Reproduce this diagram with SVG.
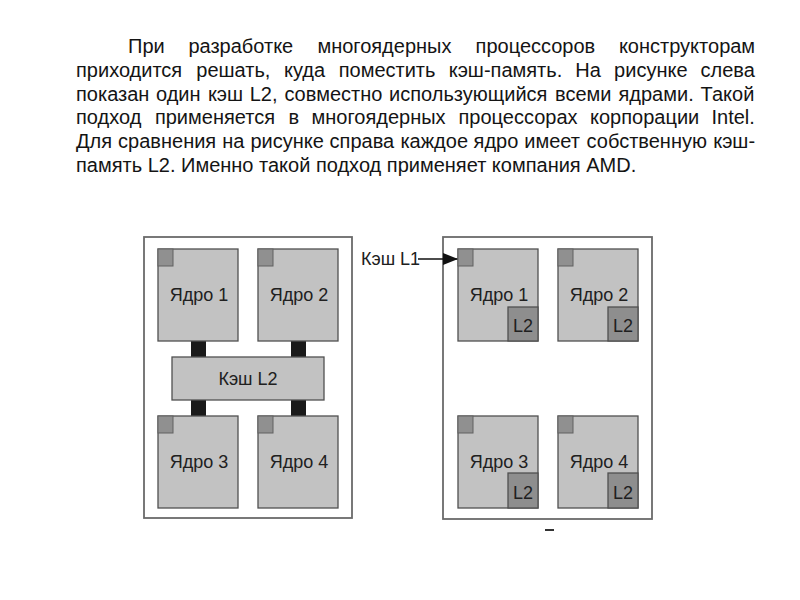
<svg xmlns="http://www.w3.org/2000/svg" width="800" height="600" viewBox="0 0 800 600">
<style>
.para{font-family:"Liberation Sans",Arial,sans-serif;font-size:20px;fill:#141414}
.lbl{font-family:"Liberation Sans",Arial,sans-serif;font-size:18px;fill:#202020;text-anchor:middle}
.chip{fill:#ffffff;stroke:#6a6a6a;stroke-width:1.8}
.core{fill:#c2c2c2;stroke:#505050;stroke-width:1.3}
.l1{fill:#909090;stroke:#606060;stroke-width:1}
.l2{fill:#8e8e8e;stroke:#505050;stroke-width:1.3}
.bar{fill:#1a1a1a}
</style>
<defs>
<marker id="ah" viewBox="0 0 15 12" refX="15" refY="6" markerWidth="15" markerHeight="12" markerUnits="userSpaceOnUse" orient="auto">
<path d="M0,0 L15,6 L0,12 Z" fill="#111"/>
</marker>
</defs>
<rect width="800" height="600" fill="#ffffff"/>
<g id="paragraph" class="para">
<text y="53"><tspan x="128">При</tspan><tspan x="188.4">разработке</tspan><tspan x="317.4">многоядерных</tspan><tspan x="475.6">процессоров</tspan><tspan x="618.9">конструкторам</tspan></text>
<text y="77"><tspan x="76">приходится</tspan><tspan x="196.3">решать,</tspan><tspan x="284">куда</tspan><tspan x="338.7">поместить</tspan><tspan x="448.7">кэш-память.</tspan><tspan x="575.3">На</tspan><tspan x="614.1">рисунке</tspan><tspan x="700.5">слева</tspan></text>
<text y="100.5"><tspan x="76">показан</tspan><tspan x="156">один</tspan><tspan x="207.9">кэш</tspan><tspan x="249.7">L2,</tspan><tspan x="284.4">совместно</tspan><tspan x="389.1">использующийся</tspan><tspan x="555">всеми</tspan><tspan x="618.5">ядрами.</tspan><tspan x="700.6">Такой</tspan></text>
<text y="124"><tspan x="76">подход</tspan><tspan x="154.9">применяется</tspan><tspan x="288.4">в</tspan><tspan x="311.5">многоядерных</tspan><tspan x="458.5">процессорах</tspan><tspan x="590">корпорации</tspan><tspan x="711.5">Intel.</tspan></text>
<text y="148"><tspan x="76">Для</tspan><tspan x="118.1">сравнения</tspan><tspan x="222.2">на</tspan><tspan x="250.4">рисунке</tspan><tspan x="329.6">справа</tspan><tspan x="400.4">каждое</tspan><tspan x="473.6">ядро</tspan><tspan x="524.3">имеет</tspan><tspan x="586.6">собственную</tspan><tspan x="713.2">кэш-</tspan></text>
<text x="76" y="171.5">память L2. Именно такой подход применяет компания AMD.</text>
</g>
<g id="chip-shared">
<rect class="chip" x="144" y="237" width="208" height="281"/>
</g>
<g id="chip-private">
<rect class="chip" x="443" y="237" width="209" height="282"/>
</g>
<g id="connectors">
<rect class="bar" x="191" y="341" width="15" height="16"/>
<rect class="bar" x="291" y="341" width="15" height="16"/>
<rect class="bar" x="191" y="400" width="15" height="16"/>
<rect class="bar" x="291" y="400" width="15" height="16"/>
<line x1="418" y1="259" x2="458" y2="259" stroke="#111" stroke-width="1.5" marker-end="url(#ah)"/>
</g>
<g id="s-core1"><rect class="core" x="158" y="249" width="80" height="92"/><rect class="l1" x="158" y="249" width="15" height="17"/><text class="lbl" x="199" y="301">Ядро 1</text></g>
<g id="s-core2"><rect class="core" x="258" y="249" width="80" height="92"/><rect class="l1" x="258" y="249" width="15" height="17"/><text class="lbl" x="299" y="301">Ядро 2</text></g>
<g id="s-l2"><rect class="core" x="172" y="357" width="152" height="43"/><text class="lbl" x="248" y="385">Кэш L2</text></g>
<g id="s-core3"><rect class="core" x="158" y="416" width="80" height="92"/><rect class="l1" x="158" y="416" width="15" height="17"/><text class="lbl" x="199" y="468">Ядро 3</text></g>
<g id="s-core4"><rect class="core" x="258" y="416" width="80" height="92"/><rect class="l1" x="258" y="416" width="15" height="17"/><text class="lbl" x="299" y="468">Ядро 4</text></g>
<g id="l1-label"><text x="361" y="265" font-family="Liberation Sans, Arial, sans-serif" font-size="18" fill="#202020">Кэш L1</text></g>
<g id="p-core1"><rect class="core" x="458" y="249" width="80" height="92"/><rect class="l1" x="458" y="249" width="15" height="17"/><rect class="l2" x="508" y="307" width="30" height="34"/><text class="lbl" x="499" y="301">Ядро 1</text><text class="lbl" x="523" y="332">L2</text></g>
<g id="p-core2"><rect class="core" x="558" y="249" width="80" height="92"/><rect class="l1" x="558" y="249" width="15" height="17"/><rect class="l2" x="608" y="307" width="30" height="34"/><text class="lbl" x="599" y="301">Ядро 2</text><text class="lbl" x="623" y="332">L2</text></g>
<g id="p-core3"><rect class="core" x="458" y="416" width="80" height="92"/><rect class="l1" x="458" y="416" width="15" height="17"/><rect class="l2" x="508" y="473" width="30" height="35"/><text class="lbl" x="499" y="468">Ядро 3</text><text class="lbl" x="523" y="499">L2</text></g>
<g id="p-core4"><rect class="core" x="558" y="416" width="80" height="92"/><rect class="l1" x="558" y="416" width="15" height="17"/><rect class="l2" x="608" y="473" width="30" height="35"/><text class="lbl" x="599" y="468">Ядро 4</text><text class="lbl" x="623" y="499">L2</text></g>
<rect x="545" y="529" width="9" height="2" fill="#333"/>
</svg>
